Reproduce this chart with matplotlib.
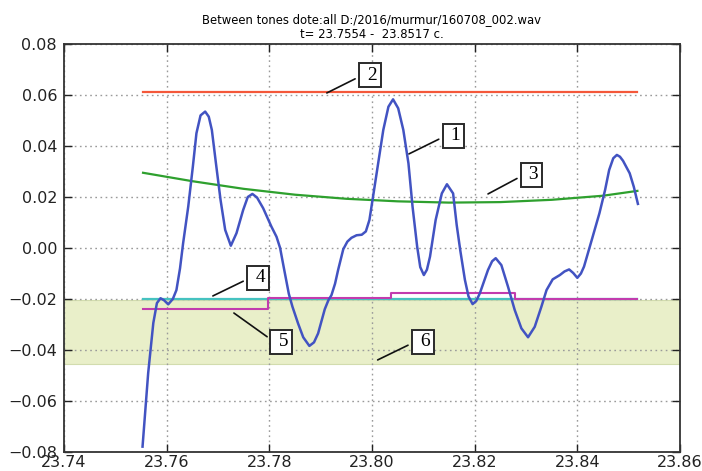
import matplotlib
matplotlib.use("Agg")
import matplotlib.pyplot as plt

# ---------------- data ----------------
blue_x = [23.7553, 23.7564, 23.7574, 23.7581, 23.7588, 23.7595, 23.7603, 23.7612,
          23.7619, 23.7626, 23.7632, 23.7642, 23.7651, 23.7658, 23.7666, 23.7675,
          23.7682, 23.7688, 23.7696, 23.7705, 23.7714, 23.7725, 23.7736, 23.7749,
          23.7758, 23.7767, 23.7776, 23.7788, 23.7804, 23.7814, 23.7821, 23.7828,
          23.7838, 23.7845, 23.7856, 23.7866, 23.7878, 23.7887, 23.7895, 23.7908,
          23.7915, 23.7921, 23.7928, 23.7934, 23.7944, 23.7952, 23.7960, 23.7970,
          23.7980, 23.7988, 23.7995, 23.8002, 23.8012, 23.8022, 23.8032, 23.8041,
          23.8051, 23.8061, 23.8071, 23.8079, 23.8088, 23.8094, 23.8101, 23.8107,
          23.8113, 23.8124, 23.8136, 23.8146, 23.8158, 23.8165, 23.8172, 23.8181,
          23.8188, 23.8196, 23.8203, 23.8210, 23.8226, 23.8234, 23.8241, 23.8252,
          23.8265, 23.8278, 23.8291, 23.8304, 23.8317, 23.8330, 23.8340, 23.8352,
          23.8366, 23.8375, 23.8384, 23.8392, 23.8400, 23.8407, 23.8413, 23.8428,
          23.8443, 23.8454, 23.8462, 23.8470, 23.8477, 23.8483, 23.8489, 23.8502,
          23.8510, 23.8518]
blue_y = [-0.0779, -0.0490, -0.0294, -0.0216, -0.0197, -0.0205, -0.0221, -0.0200,
          -0.0165, -0.0080, 0.0018, 0.0162, 0.0319, 0.0450, 0.0520, 0.0535,
          0.0515, 0.0463, 0.0332, 0.0188, 0.0071, 0.0009, 0.0058, 0.0149,
          0.0200, 0.0212, 0.0198, 0.0156, 0.0084, 0.0044, 0.0000, -0.0075,
          -0.0180, -0.0230, -0.0296, -0.0350, -0.0384, -0.0370, -0.0335, -0.0240,
          -0.0205, -0.0185, -0.0140, -0.0086, -0.0005, 0.0025, 0.0040, 0.0050,
          0.0052, 0.0065, 0.0110, 0.0201, 0.0332, 0.0463, 0.0554, 0.0583,
          0.0548, 0.0463, 0.0332, 0.0162, 0.0005, -0.0075, -0.0106, -0.0085,
          -0.0034, 0.0110, 0.0214, 0.0250, 0.0214, 0.0090, -0.0010, -0.0125,
          -0.0190, -0.0220, -0.0208, -0.0178, -0.0086, -0.0052, -0.0040, -0.0067,
          -0.0152, -0.0243, -0.0315, -0.0350, -0.0309, -0.0230, -0.0165, -0.0123,
          -0.0106, -0.0092, -0.0084, -0.0098, -0.0117, -0.0100, -0.0073, 0.0031,
          0.0136, 0.0227, 0.0306, 0.0352, 0.0365, 0.0358, 0.0342, 0.0293,
          0.0240, 0.0173]

t_start = 23.7554
t_end = 23.8517

red_level = 0.0612

green_x = [23.7554, 23.765, 23.775, 23.785, 23.795, 23.805, 23.815, 23.825,
           23.835, 23.845, 23.8517]
green_y = [0.0295, 0.0262, 0.0232, 0.0209, 0.0193, 0.0183, 0.0178, 0.0180,
           0.0189, 0.0205, 0.0224]

cyan_level = -0.0201

magenta_edges = [23.7554, 23.7797, 23.8037, 23.8278, 23.8517]
magenta_levels = [-0.0240, -0.0197, -0.0176, -0.0201]

band_low = -0.0453
band_high = -0.0203

labels = ["1", "2", "3", "4", "5", "6"]
label_box_xy = [(23.8159, 0.0441), (23.7996, 0.0678), (23.8311, 0.0288),
                (23.7778, -0.0116), (23.7823, -0.0367), (23.8099, -0.0367)]
label_point_xy = [(23.8072, 0.0369), (23.7912, 0.0608), (23.8226, 0.0212),
                  (23.7690, -0.0188), (23.7731, -0.0255), (23.8011, -0.0439)]

xticks = [23.74, 23.76, 23.78, 23.80, 23.82, 23.84, 23.86]
yticks = [-0.08, -0.06, -0.04, -0.02, 0.00, 0.02, 0.04, 0.06, 0.08]

title = "Between tones dote:all D:/2016/murmur/160708_002.wav\nt= 23.7554 -  23.8517 c."

# ---------------- figure ----------------
fig = plt.figure(figsize=(7.02, 4.71), dpi=100)
ax = fig.add_axes([64 / 702, 1 - 452 / 471, (680 - 64) / 702, (452 - 44) / 471])

ax.axhspan(band_low, band_high, facecolor="#e9efc9", edgecolor="#d2dcae", lw=0.8, zorder=0)

ax.plot([t_start, t_end], [red_level, red_level], color="#f4583a", lw=1.6, zorder=3)
ax.plot(green_x, green_y, color="#2ea02e", lw=1.6, zorder=3)
ax.plot([t_start, t_end], [cyan_level, cyan_level], color="#45c2c0", lw=1.6, zorder=3)

mx = []
my = []
for i, lev in enumerate(magenta_levels):
    mx += [magenta_edges[i], magenta_edges[i + 1]]
    my += [lev, lev]
ax.plot(mx, my, color="#c23cae", lw=1.5, zorder=3)

ax.plot(blue_x, blue_y, color="#4253c2", lw=1.8, zorder=4)

for lab, bxy, pxy in zip(labels, label_box_xy, label_point_xy):
    ax.annotate(" " + lab, xy=pxy, xytext=bxy, textcoords="data",
                ha="center", va="center", fontsize=14, family="Liberation Serif",
                bbox=dict(boxstyle="square,pad=0.18", fc="white", ec="#2a2a2a", lw=1.4),
                arrowprops=dict(arrowstyle="-", color="#111111", lw=1.2,
                                relpos=(0, 0.5), patchA=None, shrinkA=6, shrinkB=0),
                zorder=6)

ax.set_xlim(23.74, 23.86)
ax.set_ylim(-0.08, 0.08)
ax.set_xticks(xticks)
ax.set_yticks(yticks)
ax.set_xticklabels([f"{v:.2f}" for v in xticks])
ax.set_yticklabels([f"{v:.2f}".replace("-", "\u2212") for v in yticks])

ax.grid(True, color="#9a9a9a", linestyle=(0, (1.2, 2.5)), lw=1.0, zorder=1)
ax.set_axisbelow(True)
ax.tick_params(direction="in", top=True, right=True, length=6, width=1.0,
               labelsize=11.5, colors="#222222")
ax.tick_params(axis="y", pad=5)
ax.tick_params(axis="x", pad=2)
for s in ax.spines.values():
    s.set_linewidth(1.3)
    s.set_color("#333333")

ax.set_title(title, fontsize=8.4, linespacing=1.2, pad=4)

fig.savefig("out.png", dpi=100)
